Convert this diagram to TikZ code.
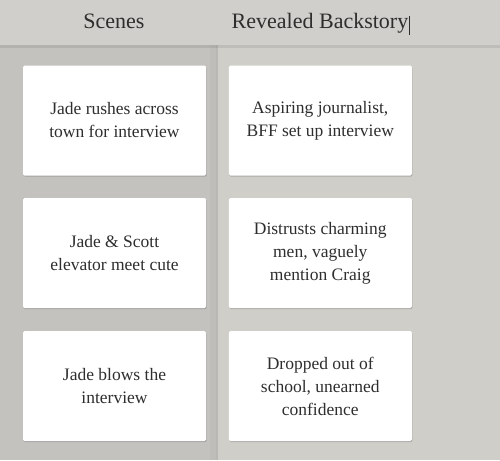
\documentclass[tikz,border=0pt]{standalone}
\usepackage{fontspec}
\setmainfont{Liberation Serif}
\usetikzlibrary{shadows}
\definecolor{headbg}{HTML}{D0CFCB}
\definecolor{leftbg}{HTML}{C4C2BE}
\definecolor{rightbg}{HTML}{CFCEC9}
\definecolor{divline}{HTML}{BAB8B4}
\definecolor{ink}{HTML}{2E2E2E}
\begin{document}
\begin{tikzpicture}[x=1pt,y=-1pt,
  card/.style={fill=white,rounded corners=1.5pt,minimum width=183pt,minimum height=110pt,
    align=center,text=ink,font=\fontsize{17.5}{23}\selectfont,
    drop shadow={shadow xshift=0.6pt,shadow yshift=-1.2pt,opacity=0.35,fill=black!60}},
  head/.style={anchor=base,inner sep=0pt,text=ink,font=\fontsize{22}{24}\selectfont}]
  \useasboundingbox (0,0) rectangle (500,460);
  % columns
  \fill[leftbg] (0,0) rectangle (216,460);
  \fill[rightbg] (216,0) rectangle (500,460);
  \fill[divline] (215.5,0) rectangle (218,460);
  \fill[black,opacity=0.025] (210,0) rectangle (215.5,460);
  % header
  \fill[black,opacity=0.08] (0,45) rectangle (500,48);
  \fill[headbg] (0,0) rectangle (500,45.5);
  \node[head] (scenes) at (114,29) {Scenes};
  \node[head] (backstory) at (320,29) {Revealed Backstory};
  \draw[ink,line width=1pt] (backstory.base east) ++(1.5,6) -- ++(0,-19);
  % cards
  \foreach \y/\txt in {120.5/{Jade rushes across\\town for interview},
                       253/{Jade \& Scott\\elevator meet cute},
                       386/{Jade blows the\\interview}}
    \node[card] (scene\y) at (114.5,\y) {\txt};
  \foreach \y/\txt in {120.5/{Aspiring journalist,\\BFF set up interview},
                       253/{Distrusts charming\\men, vaguely\\mention Craig},
                       386/{Dropped out of\\school, unearned\\confidence}}
    \node[card] (back\y) at (320.25,\y) {\txt};
\end{tikzpicture}
\end{document}
